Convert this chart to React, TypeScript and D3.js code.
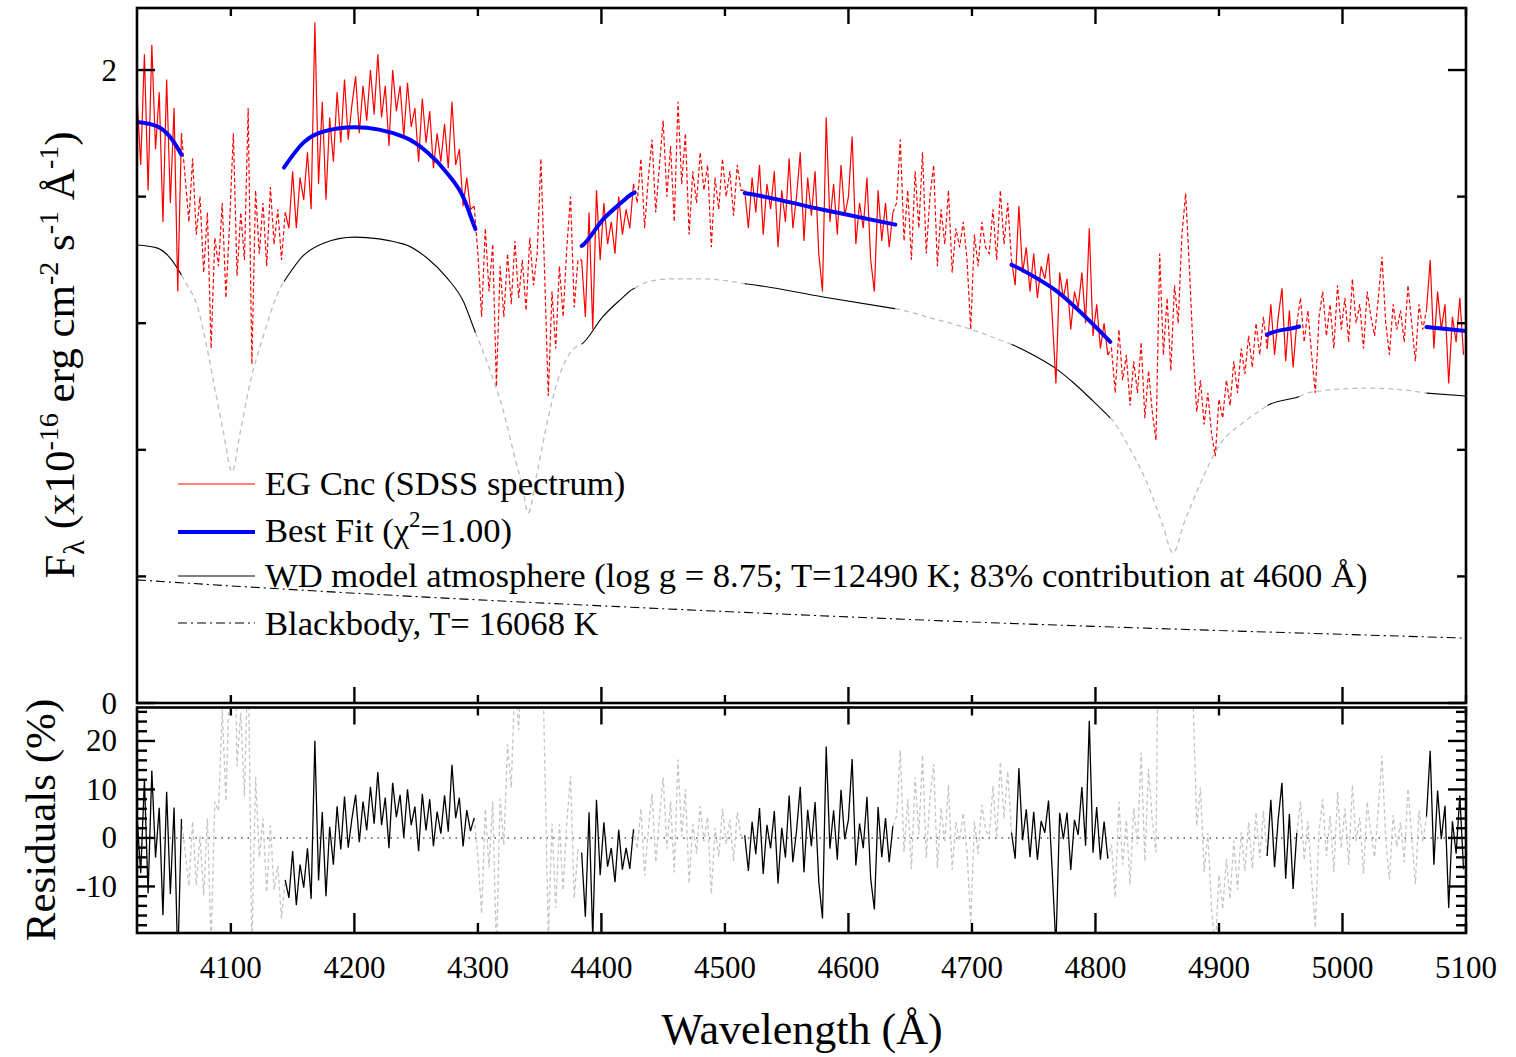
import React from 'react';
import * as d3 from 'd3';

// ---------- DATA ----------
// WD model atmosphere (flux, 1e-16 erg cm^-2 s^-1 A^-1)
const modelWave = [4024, 4040, 4050, 4059, 4064.5, 4072.6, 4080.7, 4086, 4094, 4100.9, 4107.6, 4115.7, 4126.6, 4137.4, 4142.7, 4159, 4175, 4200, 4240, 4258.8, 4275, 4288.5, 4296.6, 4309.8, 4320.4, 4328.4, 4336.5, 4340.6, 4347.9, 4356, 4364, 4374.6, 4385, 4401, 4415, 4425.6, 4437, 4455.6, 4482, 4518, 4579.5, 4639, 4663.4, 4693.2, 4722.9, 4733.3, 4752.7, 4767.5, 4782.4, 4797.3, 4812.2, 4827.1, 4841.8, 4853.9, 4862.8, 4871.8, 4883.6, 4901.4, 4919.3, 4940.1, 4963.9, 4975.8, 5020.4, 5049.9, 5068, 5100];
const modelFlux = [1.447, 1.438, 1.410, 1.359, 1.321, 1.257, 1.122, 1.014, 0.856, 0.730, 0.856, 1.014, 1.163, 1.289, 1.330, 1.415, 1.453, 1.472, 1.450, 1.406, 1.343, 1.267, 1.185, 1.052, 0.926, 0.799, 0.673, 0.600, 0.727, 0.885, 1.011, 1.106, 1.137, 1.220, 1.273, 1.308, 1.330, 1.340, 1.340, 1.324, 1.283, 1.245, 1.220, 1.188, 1.147, 1.131, 1.093, 1.058, 1.011, 0.957, 0.900, 0.809, 0.695, 0.569, 0.474, 0.569, 0.682, 0.821, 0.885, 0.942, 0.967, 0.983, 0.995, 0.989, 0.979, 0.970];

// Blackbody T = 16068 K
const bbWave = [4024, 4100, 4200, 4300, 4400, 4500, 4600, 4700, 4800, 4900, 5000, 5100];
const bbFlux = [0.389, 0.370, 0.347, 0.326, 0.307, 0.289, 0.272, 0.256, 0.242, 0.229, 0.217, 0.205];

// Wavelength windows used in the fit
const fitWindows = [[4024, 4060], [4143, 4298], [4384, 4427], [4516, 4638], [4732, 4812], [4939, 4965], [5068, 5100]];

// SDSS spectrum of EG Cnc, sampled every 3 A from 4024 A
const specStart = 4024;
const specStep = 3;
const specFlux = [
  // 4024-4060
  1.92, 1.70, 2.05, 1.62, 2.08, 1.75, 1.93, 1.52, 1.97, 1.58, 1.88, 1.30, 1.80,
  // 4063-4141
  1.66, 1.52, 1.72, 1.48, 1.60, 1.36, 1.55, 1.12, 1.47, 1.38, 1.58, 1.28, 1.52, 1.80, 1.35, 1.55, 1.40, 1.88, 1.07, 1.62, 1.42, 1.58, 1.38, 1.63, 1.45, 1.56, 1.40,
  // 4144-4297
  1.55, 1.50, 1.68, 1.50, 1.66, 1.59, 1.74, 1.56, 2.15, 1.64, 1.90, 1.59, 1.85, 1.71, 1.93, 1.77, 1.97, 1.78, 1.89, 1.98, 1.80, 1.95, 1.84, 2.00, 1.86, 2.05,
  1.85, 1.95, 1.76, 2.00, 1.87, 1.95, 1.79, 1.96, 1.82, 1.88, 1.71, 1.91, 1.77, 1.87, 1.69, 1.80, 1.71, 1.83, 1.69, 1.90, 1.70, 1.75, 1.57, 1.66, 1.56, 1.57,
  // 4300-4381
  1.42, 1.22, 1.50, 1.30, 1.45, 1.00, 1.38, 1.22, 1.42, 1.26, 1.46, 1.28, 1.40, 1.24, 1.47, 1.32, 1.42, 1.72, 1.36, 0.97, 1.30, 1.12, 1.38, 1.22, 1.44, 1.60, 1.25, 1.40,
  // 4384-4426
  1.40, 1.22, 1.55, 1.18, 1.62, 1.40, 1.58, 1.45, 1.52, 1.42, 1.60, 1.48, 1.56, 1.50, 1.64,
  // 4429-4513
  1.58, 1.72, 1.50, 1.66, 1.78, 1.55, 1.70, 1.84, 1.60, 1.76, 1.52, 1.90, 1.64, 1.80, 1.48, 1.68, 1.58, 1.74, 1.62, 1.70, 1.44, 1.66, 1.56, 1.72, 1.60, 1.68, 1.54, 1.70, 1.62,
  // 4516-4636
  1.62, 1.50, 1.66, 1.55, 1.70, 1.48, 1.64, 1.56, 1.68, 1.44, 1.62, 1.52, 1.72, 1.50, 1.60, 1.74, 1.46, 1.66, 1.54, 1.68, 1.42,
  1.30, 1.85, 1.52, 1.64, 1.48, 1.70, 1.54, 1.60, 1.79, 1.45, 1.58, 1.50, 1.66, 1.40, 1.30, 1.62, 1.46, 1.58, 1.44, 1.55,
  // 4639-4729
  1.58, 1.78, 1.46, 1.62, 1.40, 1.68, 1.50, 1.74, 1.42, 1.60, 1.70, 1.38, 1.56, 1.45, 1.62, 1.36, 1.50, 1.44, 1.52, 1.40, 1.18, 1.48, 1.38, 1.52, 1.44, 1.42, 1.56, 1.40, 1.62, 1.45, 1.58,
  // 4732-4810
  1.40, 1.32, 1.57, 1.36, 1.44, 1.30, 1.42, 1.28, 1.38, 1.34, 1.42, 1.22, 1.01, 1.36, 1.28, 1.34, 1.18, 1.30, 1.25, 1.36, 1.20, 1.50, 1.16, 1.26, 1.12, 1.20, 1.10,
  // 4813-4936
  1.12, 0.98, 1.18, 1.02, 1.10, 0.94, 1.08, 0.98, 1.14, 0.90, 1.05, 0.92, 0.83, 1.42, 1.10, 1.28, 1.05, 1.32, 1.20, 1.48, 1.61,
  1.38, 1.12, 0.92, 1.02, 0.88, 0.98, 0.85, 0.78, 0.96, 0.90, 1.02, 0.94, 1.08, 0.98, 1.12, 1.04, 1.16, 1.06, 1.20, 1.10, 1.22,
  // 4939-4963
  1.12, 1.26, 1.10, 1.22, 1.31, 1.08, 1.24, 1.06, 1.20,
  // 4966-5065
  1.28, 1.14, 1.24, 1.10, 0.98, 1.22, 1.30, 1.16, 1.26, 1.12, 1.32, 1.18, 1.28, 1.14, 1.34, 1.20, 1.26, 1.12, 1.30, 1.22, 1.16, 1.28, 1.41, 1.20, 1.10, 1.26, 1.18, 1.24, 1.14, 1.32, 1.20, 1.08, 1.26, 1.18,
  // 5068-5098
  1.24, 1.40, 1.12, 1.30, 1.18, 1.26, 1.01, 1.22, 1.14, 1.28, 1.10,
];

// axes
const xTickValues = [4100, 4200, 4300, 4400, 4500, 4600, 4700, 4800, 4900, 5000, 5100];
const xMajorTicks = [4200, 4400, 4600, 4800, 5000];
const fluxTicks = [0, 0.4, 0.8, 1.2, 1.6, 2.0];
const fluxLabels = [0, 2];
const resLabels = [-10, 0, 10, 20];
const resMinor = [-18, -16, -14, -12, -8, -6, -4, -2, 2, 4, 6, 8, 12, 14, 16, 18, 22, 24, 26];

const legendLabels = ['EG Cnc (SDSS spectrum)', 'Best Fit', 'WD model atmosphere (log g = 8.75; T=12490 K; 83% contribution at 4600 Å)', 'Blackbody, T= 16068 K'];

// ---------- CHART ----------
const FONT = '"Liberation Serif", "Times New Roman", Times, serif';
type P = { w: number; v: number };

function splitByWindows(points: P[], inWin: (w: number) => boolean) {
  const solid: P[][] = [];
  const dashed: P[][] = [];
  let cur: P[] = [];
  let curIn: boolean | null = null;
  points.forEach((p) => {
    const f = inWin(p.w);
    if (curIn === null) { curIn = f; cur = [p]; return; }
    if (f === curIn) { cur.push(p); return; }
    if (curIn) { solid.push(cur); cur = [cur[cur.length - 1], p]; }
    else { cur.push(p); dashed.push(cur); cur = [p]; }
    curIn = f;
  });
  if (cur.length) (curIn ? solid : dashed).push(cur);
  return { solid, dashed };
}

export default function App() {
  const L = 137, R = 1466, T = 8, B1 = 703, T2 = 707.5, B2 = 933;
  const x = d3.scaleLinear().domain([4024, 5100]).range([L, R]);
  const y = d3.scaleLinear().domain([0, 2.196]).range([B1, T]);
  const yr = d3.scaleLinear().domain([-19.6, 26.9]).range([B2, T2]);

  const wdAt = d3.scaleLinear<number, number>().domain(modelWave).range(modelFlux).clamp(true);
  const bbAt = d3.scaleLinear<number, number>().domain(bbWave).range(bbFlux).clamp(true);
  const fitAt = (w: number) => wdAt(w) + bbAt(w);
  const inWin = (w: number) => fitWindows.some(([a, b]) => w >= a && w <= b);

  const spec: P[] = specFlux.map((f, i) => ({ w: specStart + i * specStep, v: f }));
  const res: P[] = spec.map((p) => ({ w: p.w, v: ((p.v - fitAt(p.w)) / fitAt(p.w)) * 100 }));
  const specSeg = splitByWindows(spec, inWin);
  const resSeg = splitByWindows(res, inWin);

  const modelPts = modelWave.map((w, i) => ({ w, v: modelFlux[i] }));
  const modelSeg = (a: number, b: number): P[] => [
    { w: a, v: wdAt(a) },
    ...modelPts.filter((p) => p.w > a && p.w < b),
    { w: b, v: wdAt(b) },
  ];
  const gaps: number[][] = [];
  for (let i = 0; i < fitWindows.length - 1; i++) gaps.push([fitWindows[i][1], fitWindows[i + 1][0]]);

  const lineTop = d3.line<P>().x((d) => x(d.w)).y((d) => y(d.v));
  const smoothTop = d3.line<P>().x((d) => x(d.w)).y((d) => y(d.v)).curve(d3.curveMonotoneX);
  const lineRes = d3.line<P>().x((d) => x(d.w)).y((d) => yr(d.v));
  const bbPts = bbWave.map((w, i) => ({ w, v: bbFlux[i] }));

  const tickW = 2.4;
  const legX1 = 178, legX2 = 255, legTX = 265;
  const legRows = [495, 542, 587, 635];

  return (
    <svg width={1516} height={1057} style={{ position: 'absolute', left: 0, top: 0, background: '#fff' }} fontFamily={FONT}>
      <defs>
        <clipPath id="clipTop"><rect x={L} y={T} width={R - L} height={B1 - T} /></clipPath>
        <clipPath id="clipRes"><rect x={L} y={T2} width={R - L} height={B2 - T2} /></clipPath>
      </defs>
      <rect x={0} y={0} width={1516} height={1057} fill="#fff" />

      {/* ---------- top panel ---------- */}
      <g clipPath="url(#clipTop)">
        {gaps.map(([a, b], i) => (
          <path key={'mg' + i} d={smoothTop(modelSeg(a, b)) || ''} fill="none" stroke="#bdbdbd" strokeWidth={1.3} strokeDasharray="5 4" />
        ))}
        {fitWindows.map(([a, b], i) => (
          <path key={'mw' + i} d={smoothTop(modelSeg(a, b)) || ''} fill="none" stroke="#000" strokeWidth={1.1} />
        ))}
        <path d={smoothTop(bbPts) || ''} fill="none" stroke="#000" strokeWidth={1.1} strokeDasharray="9 4 2 4" />
        {specSeg.dashed.map((s, i) => (
          <path key={'sd' + i} d={lineTop(s) || ''} fill="none" stroke="#ff0000" strokeWidth={1.2} strokeDasharray="4 2.5" />
        ))}
        {specSeg.solid.map((s, i) => (
          <path key={'ss' + i} d={lineTop(s) || ''} fill="none" stroke="#ff0000" strokeWidth={1.2} />
        ))}
        {fitWindows.map(([a, b], i) => (
          <path key={'bf' + i} d={smoothTop(modelSeg(a, b).map((p) => ({ w: p.w, v: p.v + bbAt(p.w) }))) || ''} fill="none" stroke="#0000ff" strokeWidth={4} strokeLinecap="round" />
        ))}
      </g>

      {/* legend */}
      <g fontSize={34.6} fill="#000">
        <line x1={legX1} x2={legX2} y1={484} y2={484} stroke="#ff0000" strokeWidth={1.2} />
        <text x={legTX} y={legRows[0]}>{legendLabels[0]}</text>
        <line x1={legX1} x2={legX2} y1={532} y2={532} stroke="#0000ff" strokeWidth={4} />
        <text x={legTX} y={legRows[1]}>{legendLabels[1]} (χ<tspan fontSize={23} dy={-15}>2</tspan><tspan dy={15}>=1.00)</tspan></text>
        <line x1={legX1} x2={legX2} y1={576} y2={576} stroke="#000" strokeWidth={1.1} />
        <text x={legTX} y={legRows[2]}>{legendLabels[2]}</text>
        <line x1={legX1} x2={legX2} y1={623} y2={623} stroke="#000" strokeWidth={1.1} strokeDasharray="9 4 2 4" />
        <text x={legTX} y={legRows[3]}>{legendLabels[3]}</text>
      </g>

      {/* ---------- residual panel ---------- */}
      <g clipPath="url(#clipRes)">
        <line x1={L} x2={R} y1={yr(0)} y2={yr(0)} stroke="#000" strokeWidth={1.1} strokeDasharray="1.5 5" />
        {resSeg.dashed.map((s, i) => (
          <path key={'rd' + i} d={lineRes(s) || ''} fill="none" stroke="#c4c4c4" strokeWidth={1.3} strokeDasharray="4 3" />
        ))}
        {resSeg.solid.map((s, i) => (
          <path key={'rs' + i} d={lineRes(s) || ''} fill="none" stroke="#000" strokeWidth={1.3} />
        ))}
      </g>

      {/* frames */}
      <rect x={L} y={T} width={R - L} height={B1 - T} fill="none" stroke="#000" strokeWidth={2.6} />
      <rect x={L} y={T2} width={R - L} height={B2 - T2} fill="none" stroke="#000" strokeWidth={2.6} />

      {/* ticks */}
      <g stroke="#000" strokeWidth={tickW}>
        {xTickValues.map((v) => {
          const major = xMajorTicks.includes(v);
          const xx = x(v);
          const l1 = major ? 16 : 8;
          return (
            <g key={'xt' + v}>
              <line x1={xx} x2={xx} y1={T} y2={T + l1} />
              <line x1={xx} x2={xx} y1={B1} y2={B1 - l1} />
              <line x1={xx} x2={xx} y1={T2} y2={T2 + (major ? 17 : 8)} />
              <line x1={xx} x2={xx} y1={B2} y2={B2 - (major ? 20 : 10)} />
            </g>
          );
        })}
        {fluxTicks.map((v) => {
          const major = fluxLabels.includes(v);
          const yy = y(v);
          const l = major ? 18 : 9;
          return (
            <g key={'yt' + v}>
              <line x1={L} x2={L + l} y1={yy} y2={yy} />
              <line x1={R} x2={R - l} y1={yy} y2={yy} />
            </g>
          );
        })}
        {resLabels.map((v) => (
          <g key={'rt' + v}>
            <line x1={L} x2={L + 18} y1={yr(v)} y2={yr(v)} />
            <line x1={R} x2={R - 18} y1={yr(v)} y2={yr(v)} />
          </g>
        ))}
        {resMinor.map((v) => (
          <g key={'rm' + v}>
            <line x1={L} x2={L + 10} y1={yr(v)} y2={yr(v)} />
            <line x1={R} x2={R - 10} y1={yr(v)} y2={yr(v)} />
          </g>
        ))}
      </g>

      {/* tick labels */}
      <g fontSize={31} fill="#000">
        {xTickValues.map((v) => (
          <text key={'xl' + v} x={x(v)} y={978} textAnchor="middle">{v}</text>
        ))}
        {fluxLabels.map((v) => (
          <text key={'fl' + v} x={117} y={y(v) + 10.5} textAnchor="end">{v}</text>
        ))}
        {resLabels.map((v) => (
          <text key={'rl' + v} x={117} y={yr(v) + 10.5} textAnchor="end">{v}</text>
        ))}
      </g>

      {/* axis titles */}
      <text x={802} y={1044} textAnchor="middle" fontSize={44}>Wavelength (Å)</text>
      <text transform="translate(55,820) rotate(-90)" textAnchor="middle" fontSize={43}>Residuals (%)</text>
      <text transform="translate(74,355) rotate(-90)" textAnchor="middle" fontSize={43}>
        F<tspan fontSize={30} dy={10}>λ</tspan><tspan dy={-10}> (x10</tspan><tspan fontSize={28} dy={-16}>-16</tspan><tspan dy={16}> erg cm</tspan><tspan fontSize={28} dy={-16}>-2</tspan><tspan dy={16}> s</tspan><tspan fontSize={28} dy={-16}>-1</tspan><tspan dy={16}> Å</tspan><tspan fontSize={28} dy={-16}>-1</tspan><tspan dy={16}>)</tspan>
      </text>
    </svg>
  );
}
